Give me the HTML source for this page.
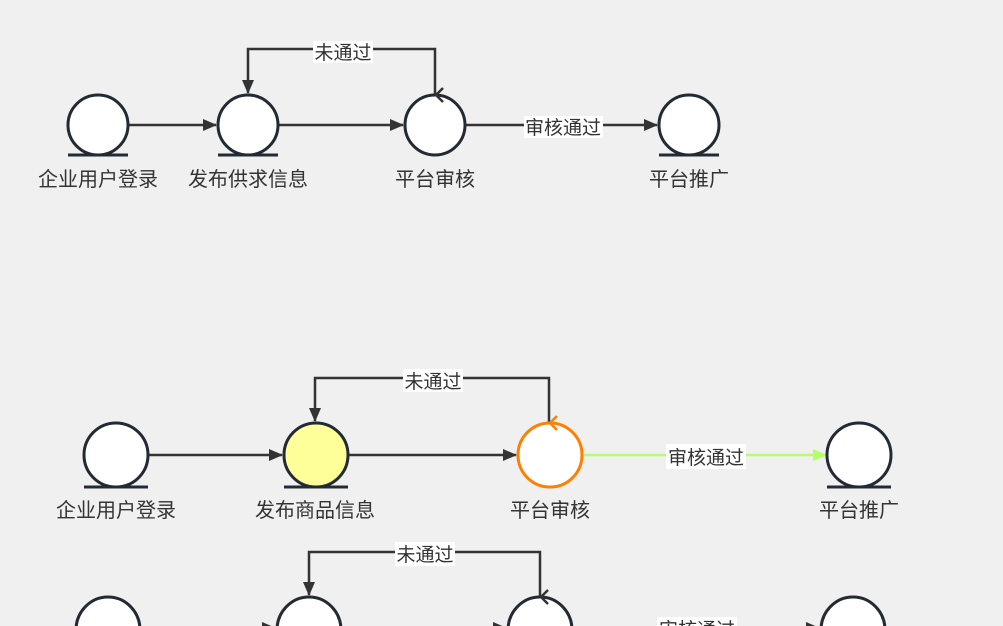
<!DOCTYPE html>
<html><head><meta charset="utf-8"><style>
html,body{margin:0;padding:0;background:#f0f0f0;width:1003px;height:626px;overflow:hidden;}
svg{display:block;}
text{font-family:"Liberation Sans","Noto Sans CJK SC",sans-serif;fill:#333;}
</style></head><body>
<svg width="1003" height="626" viewBox="0 0 1003 626" xmlns="http://www.w3.org/2000/svg">
<defs>
<marker id="ab" markerWidth="14" markerHeight="12" refX="13" refY="6" orient="auto" markerUnits="userSpaceOnUse"><path d="M0,0 L14,6 L0,12 Z" fill="#333"/></marker>
<marker id="g" markerWidth="14" markerHeight="12" refX="13" refY="6" orient="auto" markerUnits="userSpaceOnUse"><path d="M0,0 L14,6 L0,12 Z" fill="#b3ff66"/></marker>
</defs>
<g stroke="#333" stroke-width="2.5" fill="none">
<line x1="128" y1="125" x2="216" y2="125" marker-end="url(#ab)"/>
<line x1="278" y1="125" x2="403" y2="125" marker-end="url(#ab)"/>
<line x1="465" y1="125" x2="657" y2="125" marker-end="url(#ab)"/>
<polyline points="435,95 435,49 248,49 248,93" marker-end="url(#ab)"/>
<line x1="148" y1="455" x2="282" y2="455" marker-end="url(#ab)"/>
<line x1="348" y1="455" x2="516" y2="455" marker-end="url(#ab)"/>
<polyline points="549,423 549,378 315,378 315,421" marker-end="url(#ab)"/>
<polyline points="540,597 540,552 309,552 309,595" marker-end="url(#ab)"/>
<line x1="140" y1="628" x2="275" y2="628" marker-end="url(#ab)"/>
<line x1="341" y1="628" x2="506" y2="628" marker-end="url(#ab)"/>
<line x1="572" y1="628" x2="819" y2="628" marker-end="url(#ab)"/>
</g>
<line x1="582" y1="455" x2="826" y2="455" stroke="#b3ff66" stroke-width="2.5" marker-end="url(#g)"/>
<g stroke="#222b33" stroke-width="3">
<circle cx="98" cy="125" r="30" fill="#fff"/><line x1="68" y1="155" x2="128" y2="155"/>
<circle cx="248" cy="125" r="30" fill="#fff"/><line x1="218" y1="155" x2="278" y2="155"/>
<circle cx="435" cy="125" r="30" fill="#fff"/>
<circle cx="689" cy="125" r="30" fill="#fff"/><line x1="659" y1="155" x2="719" y2="155"/>
<ellipse cx="116" cy="455" rx="32" ry="32" fill="#fff"/><line x1="84" y1="487" x2="148" y2="487"/>
<ellipse cx="316" cy="455" rx="32" ry="32" fill="#ffff99"/><line x1="284" y1="487" x2="348" y2="487"/>
<ellipse cx="550" cy="455" rx="32" ry="32" fill="#fff" stroke="#ff8000"/>
<ellipse cx="859" cy="455" rx="32" ry="32" fill="#fff"/><line x1="827" y1="487" x2="891" y2="487"/>
<ellipse cx="108" cy="630" rx="32" ry="33" fill="#fff"/>
<ellipse cx="309" cy="630" rx="32" ry="33" fill="#fff"/>
<ellipse cx="540" cy="630" rx="32" ry="33" fill="#fff"/>
<ellipse cx="853" cy="630" rx="32" ry="33" fill="#fff"/>
</g>
<g stroke="#333" stroke-width="2.5" fill="none">
<polyline points="443,88 436,95 443,102"/>
<polyline points="557,416 550,423 557,430" stroke="#ff8000"/>
<polyline points="548,590 541,597 548,604"/>
</g>
<rect x="313" y="41" width="60" height="22" fill="#fff"/>
<text x="343" y="59" font-size="19" text-anchor="middle">未通过</text>
<rect x="524" y="116" width="79" height="22" fill="#fff"/>
<text x="563" y="134" font-size="19" text-anchor="middle">审核通过</text>
<rect x="403" y="369" width="60" height="23" fill="#fff"/>
<text x="433" y="388" font-size="19" text-anchor="middle">未通过</text>
<rect x="666" y="444" width="80" height="25" fill="#fff"/>
<text x="706" y="464" font-size="19" text-anchor="middle">审核通过</text>
<rect x="395" y="542" width="60" height="24" fill="#fff"/>
<text x="425" y="561" font-size="19" text-anchor="middle">未通过</text>
<rect x="657" y="617" width="80" height="20" fill="#fff"/>
<text x="697" y="636" font-size="19" text-anchor="middle">审核通过</text>
<g font-size="20" text-anchor="middle">
<text x="98" y="186">企业用户登录</text>
<text x="248" y="186">发布供求信息</text>
<text x="435" y="186">平台审核</text>
<text x="689" y="186">平台推广</text>
<text x="116" y="517">企业用户登录</text>
<text x="315" y="517">发布商品信息</text>
<text x="550" y="517">平台审核</text>
<text x="859" y="517">平台推广</text>
</g>
</svg>
</body></html>
